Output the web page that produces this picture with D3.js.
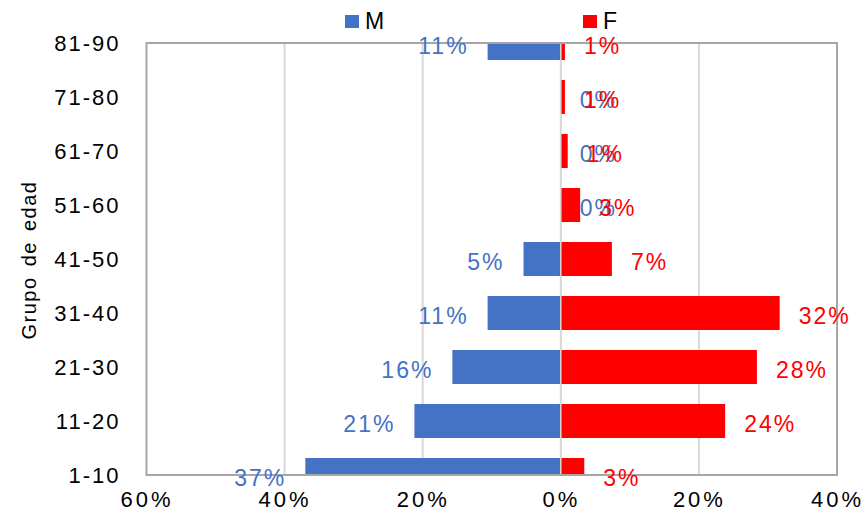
<!DOCTYPE html>
<html>
<head>
<meta charset="utf-8">
<script src="https://cdn.jsdelivr.net/npm/d3@7"></script>
<style>
  html, body { margin: 0; padding: 0; background: #fff; }
  svg { display: block; font-family: "Liberation Sans", Arial, sans-serif; }
</style>
</head>
<body>
<svg id="chart" width="866" height="515"></svg>
<script>
const categories = ["1-10","11-20","21-30","31-40","41-50","51-60","61-70","71-80","81-90"];
const maleValues = [0.37, 0.212, 0.157, 0.106, 0.054, 0, 0, 0, 0.106];
const femaleValues = [0.034, 0.238, 0.284, 0.317, 0.074, 0.028, 0.01, 0.006, 0.006];
const xTicks = [-0.6, -0.4, -0.2, 0, 0.2, 0.4];
const seriesNames = ["M", "F"];
const seriesColors = ["#4472C4", "#FF0000"];

const svg = d3.select("#chart");
const plot = {left: 146.5, right: 837, top: 43, bottom: 475};

const x = d3.scaleLinear().domain([-0.6, 0.4]).range([plot.left, plot.right]);
const y = d3.scalePoint().domain(categories.slice().reverse()).range([plot.top, plot.bottom]);
const barH = 34;
const pct = d3.format(".0%");

svg.append("defs").append("clipPath").attr("id", "clip")
  .append("rect").attr("x", plot.left).attr("y", plot.top)
  .attr("width", plot.right - plot.left).attr("height", plot.bottom - plot.top);

// gridlines
svg.append("g").selectAll("line").data(xTicks.slice(1, -1)).join("line")
  .attr("x1", d => x(d)).attr("x2", d => x(d))
  .attr("y1", plot.top).attr("y2", plot.bottom)
  .attr("stroke", "#d9d9d9").attr("stroke-width", 2);

const rows = categories.map((c, i) => ({cat: c, m: maleValues[i], f: femaleValues[i]}));

const bars = svg.append("g").attr("clip-path", "url(#clip)");
bars.selectAll("rect.m").data(rows).join("rect").attr("class", "m")
  .attr("x", d => x(-d.m)).attr("width", d => x(0) - x(-d.m))
  .attr("y", d => y(d.cat) - barH / 2).attr("height", barH)
  .attr("fill", seriesColors[0]);
bars.selectAll("rect.f").data(rows).join("rect").attr("class", "f")
  .attr("x", x(0)).attr("width", d => x(d.f) - x(0))
  .attr("y", d => y(d.cat) - barH / 2).attr("height", barH)
  .attr("fill", seriesColors[1]);

// zero line
svg.append("line").attr("x1", x(0)).attr("x2", x(0))
  .attr("y1", plot.top).attr("y2", plot.bottom)
  .attr("stroke", "#d9d9d9").attr("stroke-width", 1.5);

// plot border
svg.append("rect").attr("x", plot.left).attr("y", plot.top)
  .attr("width", plot.right - plot.left).attr("height", plot.bottom - plot.top)
  .attr("fill", "none").attr("stroke", "#a6a6a6").attr("stroke-width", 2);

// data labels
const gap = 19;
const labels = svg.append("g").attr("font-size", 23).attr("letter-spacing", 2);
labels.selectAll("text.m").data(rows).join("text").attr("class", "m")
  .attr("x", d => d.m === 0 ? x(0) + gap : x(-d.m) - gap)
  .attr("text-anchor", d => d.m === 0 ? "start" : "end")
  .attr("y", d => y(d.cat) + 3).attr("dy", "0.35em")
  .attr("fill", seriesColors[0]).text(d => pct(d.m));
labels.selectAll("text.f").data(rows).join("text").attr("class", "f")
  .attr("x", d => x(d.f) + gap).attr("text-anchor", "start")
  .attr("y", d => y(d.cat) + 3).attr("dy", "0.35em")
  .attr("fill", seriesColors[1]).text(d => pct(d.f));

// axes
const xAxis = svg.append("g").attr("transform", `translate(0,${plot.bottom + 16})`)
  .call(d3.axisBottom(x).tickValues(xTicks).tickSize(0).tickPadding(0)
    .tickFormat(d => pct(Math.abs(d))));
xAxis.select(".domain").remove();
xAxis.selectAll("text").attr("font-size", 22).attr("letter-spacing", 3)
  .attr("fill", "#000").attr("font-family", "Liberation Sans, Arial, sans-serif")
  .attr("dy", "0.71em");

const yAxis = svg.append("g").attr("transform", `translate(${plot.left},0)`)
  .call(d3.axisLeft(y).tickSize(0).tickPadding(26));
yAxis.select(".domain").remove();
yAxis.selectAll("text").attr("font-size", 22).attr("letter-spacing", 2)
  .attr("fill", "#000").attr("font-family", "Liberation Sans, Arial, sans-serif");

// y title
svg.append("text").attr("transform", "translate(36,260) rotate(-90)")
  .attr("text-anchor", "middle").attr("font-size", 20).attr("letter-spacing", 1.5)
  .attr("word-spacing", 3).attr("fill", "#000").text("Grupo de edad");

// legend
const legendX = [345, 583];
const legend = svg.append("g");
seriesNames.forEach((n, i) => {
  legend.append("rect").attr("x", legendX[i]).attr("y", 15).attr("width", 14).attr("height", 13)
    .attr("fill", seriesColors[i]);
  legend.append("text").attr("x", legendX[i] + 20).attr("y", 29)
    .attr("font-size", 23).attr("fill", "#000").text(n);
});
</script>
</body>
</html>
